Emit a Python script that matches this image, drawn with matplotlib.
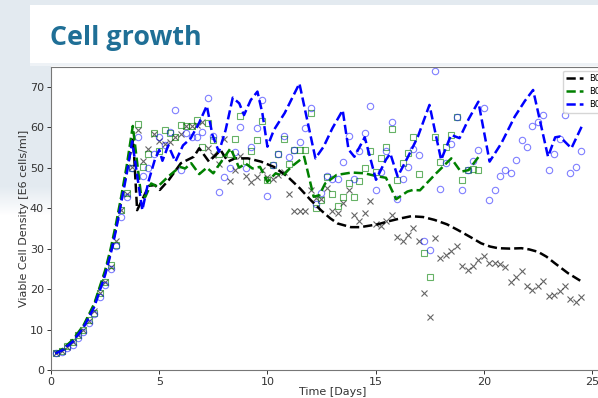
import numpy as np
import matplotlib
matplotlib.use("Agg")
import matplotlib.pyplot as plt

# ---------------------------------------------------------------- data
# sampling days of the measured viable cell density (every 6 h)
sample_days = [0.25, 0.5, 0.75, 1.0, 1.25, 1.5, 1.75, 2.0, 2.25, 2.5, 2.75, 3.0,
               3.25, 3.5, 3.75, 4.0, 4.25, 4.5, 4.75, 5.0, 5.25, 5.5, 5.75, 6.0,
               6.25, 6.5, 6.75, 7.0, 7.25, 7.5, 7.75, 8.0, 8.25, 8.5, 8.75, 9.0,
               9.25, 9.5, 9.75, 10.0, 10.25, 10.5, 10.75, 11.0, 11.25, 11.5, 11.75, 12.0,
               12.25, 12.5, 12.75, 13.0, 13.25, 13.5, 13.75, 14.0, 14.25, 14.5, 14.75, 15.0,
               15.25, 15.5, 15.75, 16.0, 16.25, 16.5, 16.75, 17.0, 17.25, 17.5, 17.75, 18.0,
               18.25, 18.5, 18.75, 19.0, 19.25, 19.5, 19.75, 20.0, 20.25, 20.5, 20.75, 21.0,
               21.25, 21.5, 21.75, 22.0, 22.25, 22.5, 22.75, 23.0, 23.25, 23.5, 23.75, 24.0,
               24.25, 24.5]

# measured VCD, reactor 1 (black crosses)
vcd_b01 = [4.3, 4.8, 5.6, 6.8, 8.6, 9.9, 12.0, 14.7, 19.1, 21.8, 25.5, 32.0,
           39.5, 43.5, 50.2, 59.2, 51.6, 54.6, 58.4, 56.7, 55.8, 56.3, 57.5, 58.2,
           60.3, 60.3, 60.5, 61.3, 54.8, 53.1, 50.9, 57.2, 46.8, 49.4, 53.0, 48.0,
           46.4, 47.8, 49.5, 47.6, 47.2, 48.2, 48.9, 43.4, 39.4, 39.4, 39.4, 44.6,
           42.6, 42.2, 44.9, 39.4, 38.9, 41.2, 44.6, 38.3, 36.8, 38.9, 41.8, 36.2,
           35.7, 36.7, 38.3, 32.9, 31.9, 33.4, 35.2, 31.9, 19.1, 13.1, 32.7, 27.6,
           28.3, 29.4, 30.6, 25.8, 24.7, 25.7, 27.2, 28.2, 26.5, 26.5, 26.2, 25.5,
           21.8, 22.9, 24.5, 20.8, 19.8, 20.8, 22.1, 18.4, 18.5, 19.5, 20.8, 17.5,
           16.8, 18.0]

# measured VCD, reactor 2 (green squares); run ended on day 19.75
vcd_b02 = [4.2, 4.7, 5.9, 7.0, 8.7, 10.0, 12.3, 14.0, 19.0, 21.8, 26.0, 31.0,
           39.5, 43.7, 50.0, 60.8, 50.1, 53.4, 58.5, 54.2, 59.3, 58.6, 57.5, 60.5,
           60.3, 60.4, 61.8, 55.2, 61.0, 56.8, 53.5, np.nan, 53.4, 57.0, 62.8, 51.6,
           54.0, 56.8, 61.6, 47.0, 50.6, 53.4, 57.1, 50.8, 54.4, 54.4, 54.4, 63.4,
           40.0, 42.0, 47.8, 43.4, 40.5, 42.8, 46.3, 42.8, 46.7, 49.8, 54.2, 49.0,
           52.3, 55.2, 59.5, 47.0, 51.2, 53.7, 57.7, 48.4, 29.0, 23.1, 57.7, 51.5,
           55.2, 58.1, 62.4, 47.0, 49.4, 49.6, 49.4, np.nan, np.nan, np.nan, np.nan, np.nan,
           np.nan, np.nan, np.nan, np.nan, np.nan, np.nan, np.nan, np.nan, np.nan, np.nan, np.nan, np.nan,
           np.nan, np.nan]

# measured VCD, reactor 3 (blue circles)
vcd_b03 = [4.1, 4.5, 5.4, 6.2, 7.8, 9.5, 11.5, 13.8, 18.1, 21.0, 24.9, 30.6,
           37.9, 42.7, 50.0, 57.5, 48.0, 50.0, 53.3, 57.7, 55.6, 58.8, 64.3, 49.4,
           58.5, 57.7, 57.7, 58.7, 67.3, 57.9, 43.9, 47.6, 49.8, 53.9, 60.0, 50.0,
           55.2, 59.7, 66.7, 42.9, 50.6, 53.4, 57.9, 52.6, 54.4, 56.4, 59.9, 64.7,
           41.0, 43.8, 48.0, 47.1, 47.1, 51.5, 57.8, 47.1, 54.2, 58.5, 65.2, 44.6,
           49.0, 54.0, 61.3, 42.3, 47.2, 50.1, 54.5, 53.1, 31.9, 29.6, 73.9, 44.8,
           51.2, 55.8, 62.5, 44.4, 49.3, 51.6, 54.4, 64.7, 42.0, 44.4, 48.0, 49.5,
           48.8, 52.0, 56.8, 55.0, 60.4, 61.3, 62.9, 49.3, 53.4, 57.2, 63.0, 48.8,
           50.2, 54.2]

# model curves
model_b01_t = [0.2, 0.5, 1.0, 1.5, 2.0, 2.5, 2.75, 3.0, 3.25, 3.5, 3.8, 3.98,
               4.21, 4.52, 4.8, 5.03, 5.45, 6.0, 6.6, 6.85, 7.3, 7.84, 8.18, 8.5,
               9.1, 9.7, 10.3, 10.93, 11.5, 12.0, 12.47, 12.9, 13.25, 13.86, 14.3, 14.64,
               15.1, 15.56, 16.1, 16.64, 17.2, 17.72, 18.3, 18.8, 19.4, 19.88, 20.3, 20.66,
               21.2, 21.74, 22.1, 22.51, 22.9, 23.28, 23.9, 24.48]
model_b01_v = [4.1, 4.9, 7.2, 10.7, 16.0, 24.0, 29.0, 35.0, 42.0, 49.5, 57.0, 39.5,
               42.0, 45.5, 45.7, 44.5, 47.0, 51.1, 52.7, 54.8, 51.5, 54.3, 51.5, 52.3,
               52.3, 51.5, 50.2, 47.8, 44.9, 42.0, 39.5, 37.5, 36.2, 35.3, 35.3, 35.6,
               36.0, 36.7, 37.4, 38.0, 37.8, 37.1, 36.0, 34.6, 32.8, 31.3, 30.5, 30.1,
               30.0, 30.1, 29.8, 29.2, 28.0, 26.4, 23.9, 22.0]

model_b02_t = [0.2, 0.5, 1.0, 1.5, 2.0, 2.5, 2.75, 3.0, 3.25, 3.5, 3.78, 4.15,
               4.36, 4.63, 4.93, 5.42, 5.95, 6.2, 6.48, 6.85, 7.2, 7.5, 7.92, 8.3,
               8.69, 9.0, 9.31, 9.66, 10.0, 10.38, 10.72, 11.1, 11.7, 12.14, 12.4, 12.67,
               13.2, 13.9, 14.5, 15.05, 15.48, 15.95, 16.47, 16.73, 17.05, 17.8, 18.5, 18.94,
               19.3, 19.82]
model_b02_v = [4.2, 5.0, 7.4, 11.0, 16.4, 24.6, 29.8, 36.0, 43.0, 50.5, 60.3, 43.7,
               42.8, 46.1, 45.3, 47.8, 50.2, 49.8, 51.1, 48.4, 50.0, 48.6, 51.9, 54.8,
               50.0, 51.0, 49.8, 50.2, 46.5, 48.6, 48.0, 50.2, 52.7, 42.8, 43.2, 46.1,
               48.2, 48.8, 48.6, 47.9, 47.5, 42.2, 44.1, 44.5, 44.4, 48.6, 52.3, 49.0,
               49.4, 53.1]

model_b03_t = [0.2, 0.5, 1.0, 1.5, 2.0, 2.5, 2.75, 3.0, 3.25, 3.5, 3.75, 4.22,
               4.5, 4.8, 5.0, 5.15, 5.42, 5.75, 6.1, 6.45, 6.84, 7.2, 7.46, 7.76,
               8.07, 8.4, 8.7, 8.92, 9.23, 9.54, 9.77, 10.0, 10.3, 10.8, 11.48, 12.22,
               12.6, 13.0, 13.48, 13.75, 14.02, 14.3, 14.5, 15.02, 15.48, 15.68, 16.02, 16.5,
               16.95, 17.49, 18.03, 18.49, 18.88, 19.3, 19.75, 20.27, 20.81, 21.43, 21.9, 22.28,
               22.97, 23.3, 23.51, 24.05, 24.52]
model_b03_v = [4.1, 4.8, 7.0, 10.5, 15.6, 23.5, 28.5, 34.5, 41.5, 48.5, 56.5, 39.5,
               46.5, 52.0, 54.4, 51.7, 55.5, 51.5, 55.5, 57.2, 61.0, 65.3, 58.1, 53.9,
               59.3, 67.3, 65.9, 63.0, 66.7, 68.8, 63.4, 55.2, 59.3, 63.5, 70.8, 52.3,
               55.2, 59.7, 64.2, 54.5, 52.7, 55.5, 57.5, 47.0, 52.0, 53.5, 47.8, 52.7,
               57.6, 65.5, 51.9, 58.1, 57.3, 62.0, 66.3, 51.5, 56.0, 62.6, 66.5, 69.2,
               52.7, 57.5, 57.7, 54.8, 60.1]

series_labels = ["B01", "B02", "B03"]
x_ticks = [0, 5, 10, 15, 20, 25]
y_ticks = [0, 10, 20, 30, 40, 50, 60, 70]

# ---------------------------------------------------------------- figure
W, H = 598, 398
fig = plt.figure(figsize=(W / 100, H / 100), dpi=100)
fig.patch.set_facecolor("white")

# slide backdrop: pale blue-grey band at the top and on the upper left
yy, xx = np.mgrid[0:H, 0:W].astype(float)
tint = np.zeros((H, W))
tint[yy < 5] = 1.0
tint[(xx < 30) & (yy < 63)] = 1.0
left_fade = np.clip((215 - yy) / 30.0, 0, 1)
tint = np.maximum(tint, np.where((xx < 51) & (yy >= 63), left_fade, 0))
tint[(yy >= 63) & (yy < 66) & (xx >= 30)] = 0.6
base = np.array([1.0, 1.0, 1.0])
blue = np.array([0xe3, 0xea, 0xf0]) / 255.0
img = base[None, None, :] * (1 - tint[..., None]) + blue[None, None, :] * tint[..., None]
bg = fig.add_axes([0, 0, 1, 1], zorder=-10)
bg.imshow(img, extent=[0, W, H, 0], aspect="auto", interpolation="bilinear")
bg.set_xlim(0, W)
bg.set_ylim(H, 0)
bg.axis("off")

fig.text(50 / W, 1 - 45 / H, "Cell growth", family="Open Sans", weight="bold",
         fontsize=19.3, color="#1f6f96", va="baseline", ha="left")

# ---------------------------------------------------------------- axes
ax_left, ax_bottom = 51, 370
ax = fig.add_axes([ax_left / W, (H - ax_bottom) / H, 562.6 / W, 303.5 / H])
ax.set_facecolor("white")

ax.plot(sample_days, vcd_b01, "x", color="k", alpha=0.6, ms=4.2, mew=0.8)
ax.plot(sample_days, vcd_b02, "s", mfc="none", mec="g", alpha=0.6, ms=4.2, mew=0.8)
ax.plot(sample_days, vcd_b03, "o", mfc="none", mec="b", alpha=0.5, ms=4.6, mew=0.8)

ax.plot(model_b01_t, model_b01_v, "--", color="k", lw=1.8, label=series_labels[0])
ax.plot(model_b02_t, model_b02_v, "--", color="g", lw=1.8, label=series_labels[1])
ax.plot(model_b03_t, model_b03_v, "--", color="b", lw=1.8, label=series_labels[2])

ax.set_xlim(0, 26)
ax.set_ylim(0, 75)
ax.set_xticks(x_ticks)
ax.set_yticks(y_ticks)
ax.tick_params(labelsize=8, colors="#333333", length=3, width=0.7, pad=2)
for s in ax.spines.values():
    s.set_color("#777777")
    s.set_linewidth(0.8)

ax.set_xlabel("Time [Days]", fontsize=8, color="#333333", labelpad=0)
ax.set_ylabel("Viable Cell Density [E6 cells/ml]", fontsize=8, color="#333333", labelpad=1)

ax.legend(loc="upper right", fontsize=6)

fig.savefig("out.png", dpi=100, facecolor=fig.get_facecolor())
